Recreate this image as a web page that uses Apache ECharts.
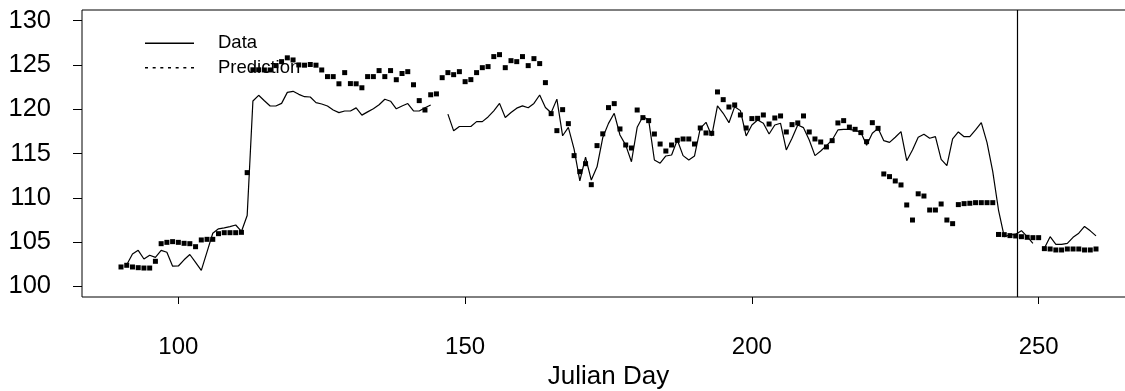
<!DOCTYPE html>
<html>
<head>
<meta charset="utf-8">
<script src="https://cdn.jsdelivr.net/npm/echarts@6/dist/echarts.min.js"></script>
<style>
  html, body { margin: 0; padding: 0; background: #fff; }
  #chart { width: 1125px; height: 391px; }
</style>
</head>
<body>
<div id="chart"></div>
<script>
// Daily series, one entry per Julian day starting at firstDay (null = no observation)
const firstDay = 90;

const measured = [
  null, 102.45, 103.65, 104.07, 103.09, 103.52, 103.28, 104.06, 103.85, 102.28,   // 90-99
  102.3, 103.0, 103.6, 102.7, 101.8, 103.9, 106.0, 106.5, 106.6, 106.75,          // 100-109
  106.93, 106.2, 108.0, 120.93, 121.57, 120.96, 120.36, 120.36, 120.66, 121.9,     // 110-119
  122.02, 121.68, 121.41, 121.38, 120.74, 120.59, 120.36, 119.91, 119.61, 119.8,   // 120-129
  119.8, 120.15, 119.33, 119.7, 120.06, 120.5, 121.12, 120.9, 120.05, 120.37,      // 130-139
  120.64, 119.8, 119.8, 120.17, 120.48, null, null, 119.44, 117.56, 118.05,        // 140-149
  118.05, 118.05, 118.6, 118.6, 119.13, 119.82, 120.66, 119.06, 119.63, 120.12,    // 150-159
  120.38, 120.16, 120.65, 121.6, 120.2, 119.6, 121.14, 117.0, 117.94, 115.5,       // 160-169
  111.9, 114.6, 112.0, 113.5, 116.8, 118.4, 119.54, 117.09, 115.95, 114.07,        // 170-179
  117.96, 119.17, 118.79, 114.27, 113.9, 114.72, 114.83, 116.53, 114.76, 114.27,   // 180-189
  114.72, 117.84, 118.52, 116.98, 120.37, 119.54, 118.48, 120.29, 119.84, 116.98,  // 190-199
  118.22, 118.79, 118.41, 117.2, 118.22, 118.41, 115.4, 116.72, 118.22, 117.92,    // 200-209
  116.53, 114.76, 115.28, 115.89, 116.53, 117.66, 117.73, 117.72, 117.62, 117.39,  // 210-219
  115.92, 117.28, 117.84, 116.45, 116.26, 116.83, 117.47, 114.19, 115.4, 116.83,   // 220-229
  117.17, 116.72, 116.9, 114.34, 113.63, 116.64, 117.43, 116.9, 116.9, 117.66,     // 230-239
  118.48, 116.23, 112.95, 108.62, 105.61, 105.8, 105.88, 106.29, 105.61, 104.86,   // 240-249
  null, 104.3, 105.61, 104.75, 104.75, 104.86, 105.54, 106.0, 106.77, 106.27,      // 250-259
  105.7                                                                            // 260
];

const predicted = [
  102.19, 102.38, 102.19, 102.11, 102.07, 102.07, 102.83, 104.82, 104.97, 105.05,  // 90-99
  104.97, 104.86, 104.82, 104.48, 105.24, 105.31, 105.31, 105.95, 106.06, 106.06,  // 100-109
  106.06, 106.1, 112.84, 124.45, 124.45, 124.43, 124.43, 124.92, 125.37, 125.8,    // 110-119
  125.56, 125.0, 124.97, 125.05, 124.97, 124.43, 123.68, 123.68, 122.87, 124.13,   // 120-129
  122.89, 122.87, 122.42, 123.68, 123.68, 124.36, 123.68, 124.36, 123.33, 124.03,  // 130-139
  124.24, 122.76, 120.97, 119.91, 121.63, 121.73, 123.56, 124.13, 123.9, 124.24,   // 140-149
  123.11, 123.34, 124.13, 124.69, 124.81, 125.94, 126.16, 124.69, 125.48, 125.37,  // 150-159
  125.94, 124.92, 125.71, 125.15, 123.0, 119.5, 117.58, 119.95, 118.37, 114.76,    // 160-169
  112.95, 113.85, 111.48, 115.89, 117.22, 120.18, 120.63, 117.77, 115.96, 115.62,  // 170-179
  119.91, 119.05, 118.71, 117.2, 116.07, 115.28, 115.96, 116.49, 116.64, 116.64,   // 180-189
  116.07, 117.88, 117.32, 117.28, 121.95, 121.08, 120.25, 120.48, 119.35, 117.88,  // 190-199
  118.94, 118.97, 119.35, 118.33, 119.01, 119.24, 117.43, 118.26, 118.45, 119.24,  // 200-209
  117.43, 116.64, 116.3, 115.74, 116.45, 118.45, 118.71, 117.98, 117.73, 117.36,   // 210-219
  116.34, 118.48, 117.84, 112.69, 112.39, 111.9, 111.45, 109.19, 107.49, 110.45,   // 220-229
  110.2, 108.62, 108.62, 109.3, 107.49, 107.08, 109.23, 109.34, 109.38, 109.45,    // 230-239
  109.45, 109.45, 109.45, 105.86, 105.84, 105.73, 105.69, 105.61, 105.54, 105.5,   // 240-249
  105.5, 104.26, 104.22, 104.11, 104.11, 104.22, 104.22, 104.22, 104.11, 104.11,   // 250-259
  104.22                                                                           // 260
];

// Axis ticks and the end-of-fit marker
const xTicks = [100, 150, 200, 250];
const yTicks = [100, 105, 110, 115, 120, 125, 130];
const cutoffDay = 246.2;

const seriesNames = ['Data', 'Prediction'];

const toPairs = (values) => values.map((v, i) => [firstDay + i, v]);

const FONT = 'Liberation Sans, Arial, Helvetica, sans-serif';

// Legend glyph for the dotted "Prediction" key: seven short dashes
const dottedIcon = 'path://' + [0, 1, 2, 3, 4, 5, 6]
  .map(k => 'M' + (k * 7.67).toFixed(2) + ',0h3v1.3h-3z').join(' ');

const chart = echarts.init(document.getElementById('chart'), null, { renderer: 'canvas' });

chart.setOption({
  animation: false,
  backgroundColor: '#fff',
  grid: {
    left: 82,
    top: 10,
    right: -10,
    bottom: 94,
    show: true,
    borderColor: '#000',
    borderWidth: 1,
    backgroundColor: 'transparent',
    containLabel: false,
    outerBoundsMode: 'none'
  },
  legend: {
    orient: 'vertical',
    left: 145,
    top: 31,
    padding: 0,
    itemGap: 0,
    itemWidth: 49,
    itemHeight: 1.3,
    selectedMode: false,
    textStyle: {
      fontFamily: FONT,
      fontSize: 18.5,
      lineHeight: 24.5,
      color: '#000',
      padding: [0, 0, 0, 19]
    },
    data: [
      { name: seriesNames[0], icon: 'rect' },
      { name: seriesNames[1], icon: dottedIcon }
    ]
  },
  xAxis: {
    type: 'value',
    min: 83.2,
    max: 266.8,
    name: 'Julian Day',
    nameLocation: 'middle',
    nameGap: 64,
    nameTextStyle: { fontFamily: FONT, fontSize: 26, color: '#000' },
    axisLine: { show: false },
    splitLine: { show: false },
    axisTick: {
      show: true,
      length: 7,
      customValues: xTicks,
      lineStyle: { color: '#000', width: 1 }
    },
    axisLabel: {
      customValues: xTicks,
      margin: 38,
      fontFamily: FONT,
      fontSize: 24,
      color: '#000'
    }
  },
  yAxis: {
    type: 'value',
    min: 98.8,
    max: 131.2,
    axisLine: { show: false },
    splitLine: { show: false },
    axisTick: {
      show: true,
      length: 9,
      customValues: yTicks,
      lineStyle: { color: '#000', width: 1 }
    },
    axisLabel: {
      customValues: yTicks,
      margin: 31,
      fontFamily: FONT,
      fontSize: 25.5,
      color: '#000'
    }
  },
  series: [
    {
      name: seriesNames[0],
      type: 'line',
      data: toPairs(measured),
      showSymbol: false,
      symbol: 'none',
      connectNulls: false,
      color: '#000',
      lineStyle: { color: '#000', width: 1.2 },
      emphasis: { disabled: true },
      markLine: {
        silent: true,
        symbol: 'none',
        label: { show: false },
        lineStyle: { color: '#000', width: 1.2, type: 'solid' },
        data: [{ xAxis: cutoffDay }]
      }
    },
    {
      name: seriesNames[1],
      type: 'scatter',
      data: toPairs(predicted),
      symbol: 'rect',
      symbolSize: 5,
      color: '#000',
      itemStyle: { color: '#000', opacity: 1 },
      emphasis: { disabled: true }
    }
  ]
});
</script>
</body>
</html>
